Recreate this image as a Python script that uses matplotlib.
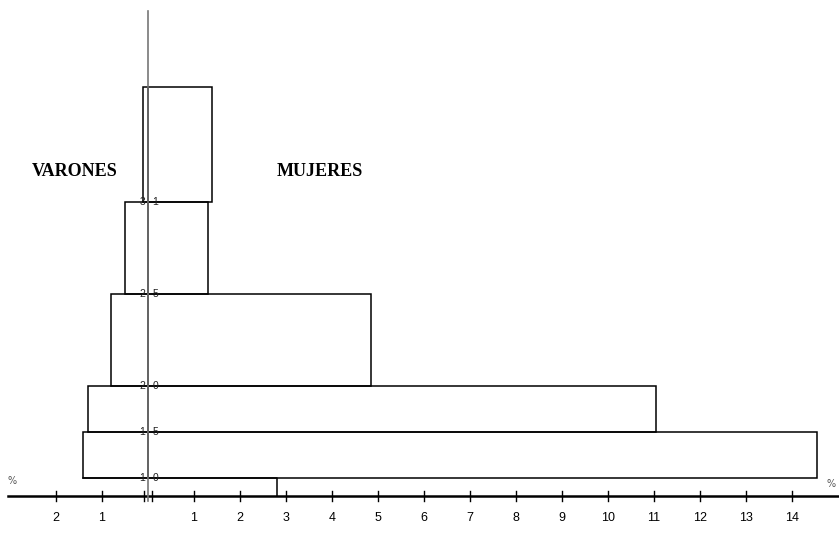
import numpy as np
import matplotlib
matplotlib.use("Agg")
from matplotlib import pyplot as plt
from matplotlib.patches import Rectangle

# class edges (vertical scale of the pyramid) and bar widths in %
edges = [0.0, 0.4, 1.4, 2.4, 4.4, 6.4, 8.9]
mujeres = [2.8, 14.55, 11.05, 4.85, 1.3, 1.39]
varones = [0.0, 1.42, 1.3, 0.8, 0.5, 0.11]
edge_labels = [("1", "0"), ("1", "5"), ("2", "0"), ("2", "5"), ("3", "1")]

ticks_right = list(range(1, 15))
ticks_left = [1, 2]

fig = plt.figure(figsize=(8.39, 5.48), dpi=100)
ax = fig.add_axes([0, 0, 1, 1])
ax.set_xlim(-148 / 46, (839 - 148) / 46)
ax.set_ylim(-52 / 46, 496 / 46)
ax.axis("off")

# central axis
ax.plot([0, 0], [-0.1, 10.55], color="#777777", lw=1.2, zorder=3)

# bars
for i in range(len(mujeres)):
    y0, y1 = edges[i], edges[i + 1]
    h = y1 - y0
    if mujeres[i] > 0:
        if i == 0:
            ax.plot([0, mujeres[i], mujeres[i]], [y1, y1, y0], color="black", lw=1.1)
        else:
            ax.add_patch(Rectangle((0, y0), mujeres[i], h, fill=False, ec="black", lw=1.1))
    if varones[i] > 0:
        ax.add_patch(Rectangle((-varones[i], y0), varones[i], h, fill=False, ec="black", lw=1.1))
    if i == 0:
        ax.plot([-varones[1], 0], [y1, y1], color="black", lw=1.1)

# small labels at the class edges
for (left, right), y in zip(edge_labels, edges[1:]):
    ax.text(-0.06, y, left, ha="right", va="center", fontsize=7.5, color="#222222",
            family="Liberation Sans", zorder=4)
    ax.text(0.1, y, right, ha="left", va="center", fontsize=7.5, color="#222222",
            family="Liberation Sans", zorder=4)

# horizontal % axis
ax.plot([-3.05, 15.0], [0, 0], color="black", lw=1.8)
for t in ticks_right:
    ax.plot([t, t], [-0.1, 0.1], color="black", lw=1.0)
    ax.text(t, -0.48, str(t), ha="center", va="center", fontsize=9, family="Liberation Sans")
for t in ticks_left:
    ax.plot([-t, -t], [-0.1, 0.1], color="black", lw=1.0)
    ax.text(-t, -0.48, str(t), ha="center", va="center", fontsize=9, family="Liberation Sans")
ax.plot([-0.09, -0.09], [-0.1, 0.1], color="black", lw=1.0)
ax.plot([0.09, 0.09], [-0.1, 0.1], color="black", lw=1.0)

ax.text(-2.96, 0.33, "%", ha="center", va="center", fontsize=7, color="#555555")
ax.text(14.85, 0.27, "%", ha="center", va="center", fontsize=7, color="#555555")

ax.text(-1.6, 7.05, "VARONES", ha="center", va="center", fontsize=13,
        fontweight="bold", family="Liberation Serif")
ax.text(3.74, 7.05, "MUJERES", ha="center", va="center", fontsize=13,
        fontweight="bold", family="Liberation Serif")

fig.savefig("out.png", dpi=100)
